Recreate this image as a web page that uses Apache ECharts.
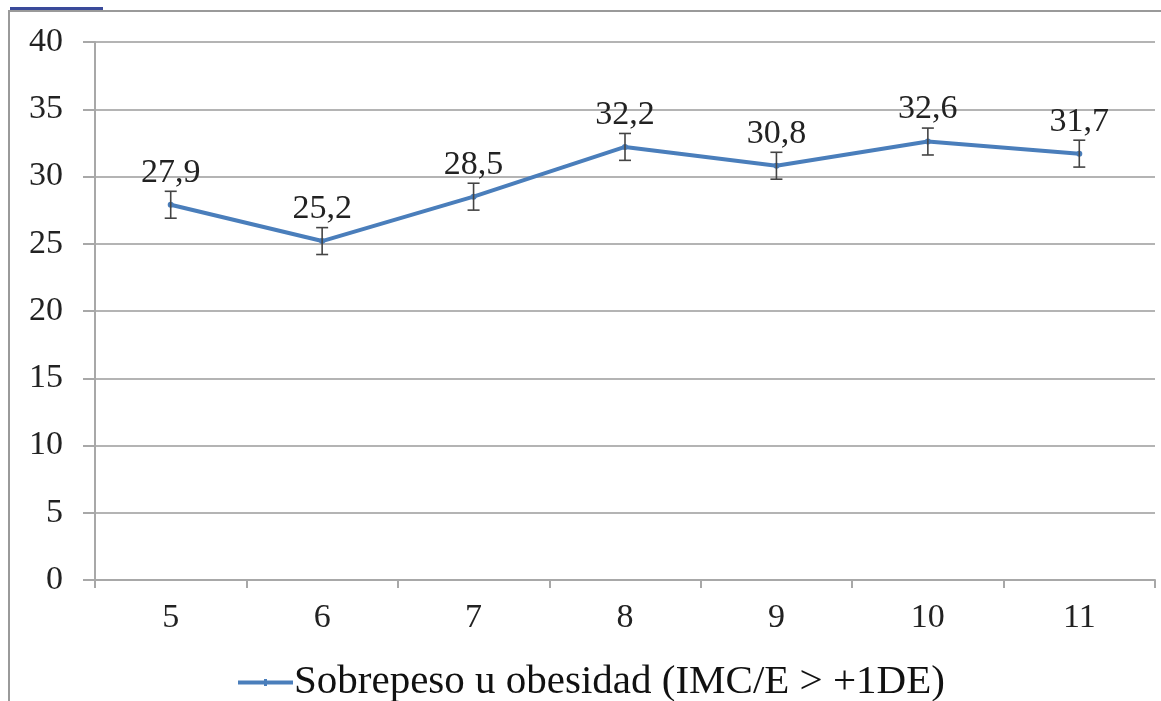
<!DOCTYPE html>
<html>
<head>
<meta charset="utf-8">
<script src="https://cdn.jsdelivr.net/npm/echarts@6/dist/echarts.min.js"></script>
<style>
html,body{margin:0;padding:0;background:#fff;}
#chart{width:1161px;height:701px;}
</style>
</head>
<body>
<div id="chart"></div>
<script>
const categories = ['5', '6', '7', '8', '9', '10', '11'];
const values = [27.9, 25.2, 28.5, 32.2, 30.8, 32.6, 31.7];
const errors = [1.0, 1.0, 1.0, 1.0, 1.0, 1.0, 1.0];
const seriesName = 'Sobrepeso u obesidad (IMC/E > +1DE)';
const yTicks = { min: 0, max: 40, interval: 5 };

const errorData = values.map((v, i) => [i, v - errors[i], v + errors[i]]);
const FONT = '"Liberation Serif", "DejaVu Serif", serif';

const chart = echarts.init(document.getElementById('chart'), null, { renderer: 'canvas' });
chart.setOption({
  animation: false,
  backgroundColor: '#fff',
  grid: { left: 95, right: 6, top: 42, bottom: 121, containLabel: false },
  graphic: [
    { type: 'line', shape: { x1: 8, y1: 11, x2: 1161, y2: 11 }, style: { stroke: '#9a9a9a', lineWidth: 2 } },
    { type: 'line', shape: { x1: 9, y1: 11, x2: 9, y2: 701 }, style: { stroke: '#9a9a9a', lineWidth: 2 } },
    { type: 'rect', shape: { x: 10, y: 7, width: 93, height: 3 }, style: { fill: '#3a4a9a' } }
  ],
  legend: {
    data: [{ name: seriesName, icon: 'path://M0,1.5 L55,1.5 L55,5.5 L0,5.5 Z M26,0 L29,0 L29,7 L26,7 Z' }],
    left: 233,
    top: 657,
    itemWidth: 55,
    itemHeight: 7,
    itemGap: 4,
    itemStyle: { color: '#4a7ebb' },
    textStyle: { fontFamily: FONT, fontSize: 41, color: '#111', padding: [0, 0, 0, -4] }
  },
  xAxis: {
    type: 'category',
    data: categories,
    boundaryGap: true,
    axisLine: { lineStyle: { color: '#a8a8a8', width: 2 } },
    axisTick: { show: true, length: 8, inside: false, lineStyle: { color: '#a8a8a8', width: 2 } },
    axisLabel: { fontFamily: FONT, fontSize: 34, color: '#222', margin: 21 },
    splitLine: { show: false }
  },
  yAxis: {
    type: 'value',
    min: yTicks.min,
    max: yTicks.max,
    interval: yTicks.interval,
    axisLine: { show: true, lineStyle: { color: '#a8a8a8', width: 2 } },
    axisTick: { show: true, length: 12, lineStyle: { color: '#a8a8a8', width: 2 } },
    axisLabel: { fontFamily: FONT, fontSize: 34, color: '#222', margin: 32 },
    splitLine: { show: true, lineStyle: { color: '#b4b4b4', width: 2 } }
  },
  series: [
    {
      name: seriesName,
      type: 'line',
      data: values,
      symbol: 'circle',
      symbolSize: 6,
      z: 3,
      lineStyle: { color: '#4a7ebb', width: 4 },
      itemStyle: { color: '#4a7ebb' },
      label: {
        show: true,
        position: 'top',
        distance: 12,
        fontFamily: FONT,
        fontSize: 34,
        color: '#222',
        formatter: p => String(p.value).replace('.', ',')
      }
    },
    {
      type: 'custom',
      name: 'error',
      z: 4,
      silent: true,
      data: errorData,
      renderItem: function (params, api) {
        const x = api.value(0);
        const lo = api.coord([x, api.value(1)]);
        const hi = api.coord([x, api.value(2)]);
        const hw = 6;
        const style = { stroke: '#444', lineWidth: 1.6 };
        return {
          type: 'group',
          children: [
            { type: 'line', shape: { x1: lo[0], y1: lo[1], x2: hi[0], y2: hi[1] }, style: style },
            { type: 'line', shape: { x1: hi[0] - hw, y1: hi[1], x2: hi[0] + hw, y2: hi[1] }, style: style },
            { type: 'line', shape: { x1: lo[0] - hw, y1: lo[1], x2: lo[0] + hw, y2: lo[1] }, style: style }
          ]
        };
      }
    }
  ]
});
</script>
</body>
</html>
